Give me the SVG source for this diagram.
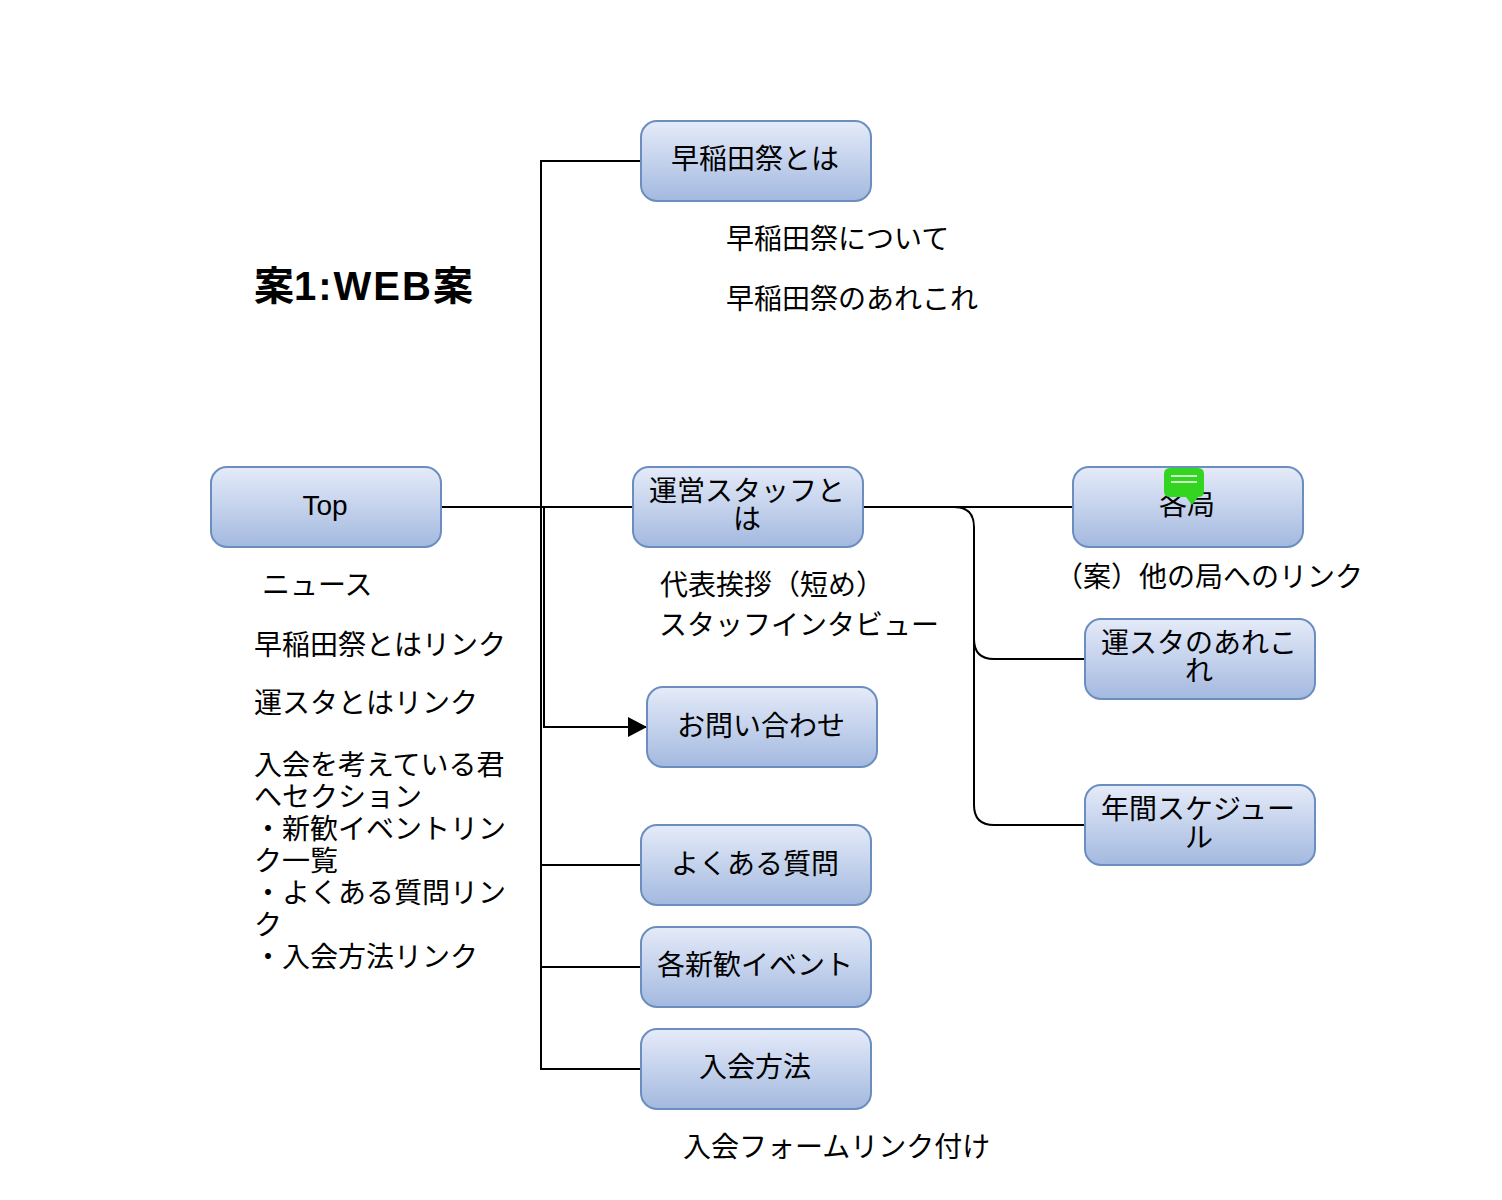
<svg xmlns="http://www.w3.org/2000/svg" width="1502" height="1200" viewBox="0 0 1502 1200">
<style>
text{font-family:"Liberation Sans","Noto Sans CJK JP",sans-serif;font-size:28px;fill:#000}
.c{text-anchor:middle}
.n{fill:url(#g);stroke:#6c8ebf;stroke-width:2}
.e{fill:none;stroke:#000;stroke-width:2}
</style>
<defs>
<linearGradient id="g" x1="0" y1="0" x2="0" y2="1"><stop offset="0" stop-color="#e5ebf9"/><stop offset="1" stop-color="#a3b9df"/></linearGradient>
<marker id="a" markerUnits="userSpaceOnUse" markerWidth="20" markerHeight="22" refX="19" refY="11" orient="auto"><path d="M0 1L19 11L0 21Z" fill="#000"/></marker>
</defs>
<rect width="1502" height="1200" fill="#fff"/>
<g id="connectors">
<path class="e" d="M441 507H633"/>
<path class="e" d="M441 507H541V161H641"/>
<path class="e" d="M541 507V865H641"/>
<path class="e" d="M541 865V967H641"/>
<path class="e" d="M541 967V1069H641"/>
<path class="e" d="M544 507V727H647" marker-end="url(#a)"/>
<path class="e" d="M863 507H1073"/>
<path class="e" d="M863 507H954Q974 507 974 527V639Q974 659 994 659H1085"/>
<path class="e" d="M974 639V805Q974 825 994 825H1085"/>
</g>
<g id="top"><rect class="n" x="211" y="467" width="230" height="80" rx="16"/><text class="c" x="325" y="515">Top</text></g>
<g id="about"><rect class="n" x="641" y="121" width="230" height="80" rx="16"/><text class="c" x="755" y="169">早稲田祭とは</text></g>
<g id="staff"><rect class="n" x="633" y="467" width="230" height="80" rx="16"/><text class="c" x="747" y="501">運営スタッフと</text><text class="c" x="747" y="529">は</text></g>
<g id="kyoku"><rect class="n" x="1073" y="467" width="230" height="80" rx="16"/><text class="c" x="1187" y="515">各局</text></g>
<g id="comment"><path d="M1170 468H1198Q1204 468 1204 474V491Q1204 497 1198 497L1192 505L1186 497H1170Q1164 497 1164 491V474Q1164 468 1170 468Z" fill="#34d520"/><path d="M1171 476H1197M1171 482H1197" stroke="#fff" stroke-width="1.5" fill="none"/></g>
<g id="arekore"><rect class="n" x="1085" y="619" width="230" height="80" rx="16"/><text class="c" x="1199" y="653">運スタのあれこ</text><text class="c" x="1199" y="681">れ</text></g>
<g id="schedule"><rect class="n" x="1085" y="785" width="230" height="80" rx="16"/><text class="c" x="1198" y="819">年間スケジュー</text><text class="c" x="1199" y="848">ル</text></g>
<g id="contact"><rect class="n" x="647" y="687" width="230" height="80" rx="16"/><text class="c" x="761" y="736">お問い合わせ</text></g>
<g id="faq"><rect class="n" x="641" y="825" width="230" height="80" rx="16"/><text class="c" x="755" y="874">よくある質問</text></g>
<g id="events"><rect class="n" x="641" y="927" width="230" height="80" rx="16"/><text class="c" x="755" y="975">各新歓イベント</text></g>
<g id="join"><rect class="n" x="641" y="1029" width="230" height="80" rx="16"/><text class="c" x="755" y="1077">入会方法</text></g>
<g id="labels">
<text x="254" y="300" style="font-size:40px;font-weight:bold">案<tspan letter-spacing="2">1:WEB</tspan>案</text>
<text x="726" y="249">早稲田祭について</text>
<text x="726" y="309">早稲田祭のあれこれ</text>
<text x="262" y="595">ニュース</text>
<text x="254" y="655">早稲田祭とはリンク</text>
<text x="254" y="713">運スタとはリンク</text>
<text x="254" y="775">入会を考えている君</text>
<text x="254" y="807">へセクション</text>
<text x="254" y="839">・新歓イベントリン</text>
<text x="254" y="871">ク一覧</text>
<text x="254" y="903">・よくある質問リン</text>
<text x="254" y="935">ク</text>
<text x="254" y="967">・入会方法リンク</text>
<text x="660" y="595">代表挨拶（短め）</text>
<text x="659" y="635">スタッフインタビュー</text>
<text x="1055" y="587">（案）他の局へのリンク</text>
<text x="683" y="1157">入会フォームリンク付け</text>
</g>
</svg>
